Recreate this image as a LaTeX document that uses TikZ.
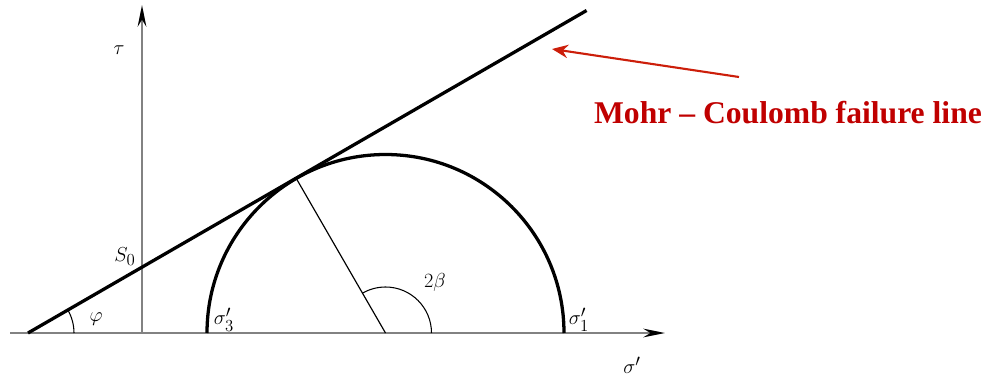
\documentclass[tikz,border=0pt]{standalone}
\usepackage{amsmath,amssymb}
\usepackage{fontspec}
\setmainfont{Liberation Serif}
\usepackage{tikz}
\usetikzlibrary{positioning,arrows.meta,calc}
\usepackage{xcolor}
\definecolor{mcred}{RGB}{192,0,0}
\definecolor{arrowred}{RGB}{204,30,10}
\definecolor{axisgray}{RGB}{130,130,130}

\begin{document}
\begin{tikzpicture}[x=0.3mm,y=0.3mm,>={Stealth[length=6.5mm,width=2.6mm,color=black]},
  axis/.style={->,axisgray,line width=1.8pt},
  heavy/.style={line width=2.8pt},
  thin line/.style={line width=1pt},
  lbl/.style={font=\fontsize{19}{22}\selectfont}]
\useasboundingbox (0,0) rectangle (999,377);
\coordinate (O) at (142,44);
\coordinate (A) at (28,44);
\coordinate (C) at (385.5,44);
\coordinate (T) at ($(C)+(120:178.5)$);
\draw[axis] (10,44) -- (665,44);
\draw[axis] (O) -- (142,372);
\draw[heavy] (A) -- ++(30:645);
\draw[heavy] (207,44) arc[start angle=180,end angle=0,radius=178.5];
\draw[thin line] (C) -- (T);
\draw[line width=0.9pt] ($(C)+(46,0)$) arc[start angle=0,end angle=120,radius=46];
\draw[line width=0.9pt] ($(A)+(46,0)$) arc[start angle=0,end angle=30,radius=46];
\node[lbl] (tau) at (119,327) {$\tau$};
\node[lbl] (s0) at (125,120) {$S_0$};
\node[lbl] (phi) at (96,58) {$\varphi$};
\node[lbl] (sig3) at (224,57) {$\sigma_3'$};
\node[lbl] (twob) at (435,95) {$2\beta$};
\node[lbl] (sig1) at (579,57) {$\sigma_1'$};
\node[lbl] (sig) at (632,12) {$\sigma'$};
\node[text=mcred,font=\fontsize{27}{32}\bfseries\selectfont] (mc) at (788,264) {Mohr – Coulomb failure line};
\coordinate (tail) at (739,300);
\coordinate (head) at (552,328);
\draw[arrowred,line width=1.8pt,-{Stealth[length=4.8mm,width=4mm]}] (tail) -- (head);
\end{tikzpicture}
\end{document}
